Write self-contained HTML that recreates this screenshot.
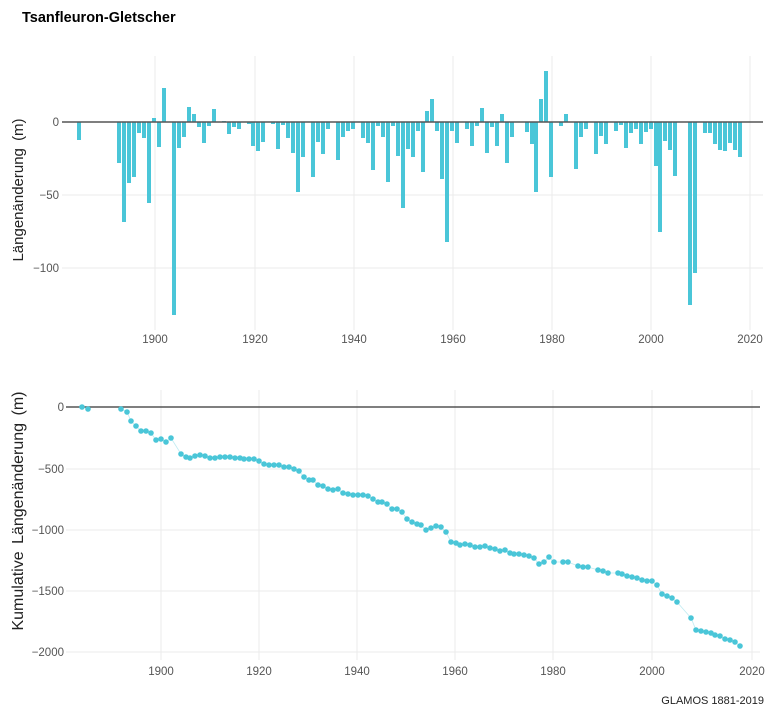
<!DOCTYPE html>
<html><head><meta charset="utf-8"><style>
body{margin:0;background:#fff;width:776px;height:709px;overflow:hidden}
svg{display:block}
text{font-family:"Liberation Sans",sans-serif}
</style></head><body>
<svg id="s" width="776" height="709" xmlns="http://www.w3.org/2000/svg">
<text x="22" y="22" font-size="14.5" font-weight="bold" fill="#000">Tsanfleuron-Gletscher</text>
<g stroke="#ebebeb" stroke-width="1">
<line x1="62" y1="195" x2="763" y2="195"/><line x1="62" y1="268" x2="763" y2="268"/>
<line x1="155" y1="56" x2="155" y2="330"/><line x1="255" y1="56" x2="255" y2="330"/><line x1="354" y1="56" x2="354" y2="330"/><line x1="453" y1="56" x2="453" y2="330"/><line x1="552" y1="56" x2="552" y2="330"/><line x1="651" y1="56" x2="651" y2="330"/><line x1="750" y1="56" x2="750" y2="330"/>
<line x1="66" y1="469" x2="760" y2="469"/><line x1="66" y1="530" x2="760" y2="530"/><line x1="66" y1="591" x2="760" y2="591"/><line x1="66" y1="652" x2="760" y2="652"/>
<line x1="161" y1="390" x2="161" y2="660"/><line x1="259" y1="390" x2="259" y2="660"/><line x1="357" y1="390" x2="357" y2="660"/><line x1="455" y1="390" x2="455" y2="660"/><line x1="553" y1="390" x2="553" y2="660"/><line x1="652" y1="390" x2="652" y2="660"/><line x1="752" y1="390" x2="752" y2="660"/>
</g>
<g id="bars" fill="#4ac6d8"></g>
<line x1="62" y1="122" x2="763" y2="122" stroke="#555" stroke-width="1.5"/>
<line x1="66" y1="407" x2="760" y2="407" stroke="#555" stroke-width="1.5"/>
<g id="pts" fill="#4ac6d8"></g>
<g font-size="11.5" fill="#555" text-anchor="end">
<text x="59" y="126">0</text><text x="59" y="199">−50</text><text x="59" y="272">−100</text>
<text x="64" y="411">0</text><text x="64" y="473">−500</text><text x="64" y="534">−1000</text><text x="64" y="595">−1500</text><text x="64" y="656">−2000</text>
</g>
<g font-size="11.5" fill="#555" text-anchor="middle">
<text x="155" y="343">1900</text><text x="255" y="343">1920</text><text x="354" y="343">1940</text><text x="453" y="343">1960</text><text x="552" y="343">1980</text><text x="651" y="343">2000</text><text x="750" y="343">2020</text>
<text x="161" y="675">1900</text><text x="259" y="675">1920</text><text x="357" y="675">1940</text><text x="455" y="675">1960</text><text x="553" y="675">1980</text><text x="652" y="675">2000</text><text x="752" y="675">2020</text>
</g>
<text transform="translate(23,190) rotate(-90)" font-size="15" fill="#222" text-anchor="middle" word-spacing="3">Längenänderung (m)</text>
<text transform="translate(23,511) rotate(-90)" font-size="16" fill="#222" text-anchor="middle" word-spacing="3">Kumulative Längenänderung (m)</text>
<text x="764" y="704" font-size="11" fill="#222" text-anchor="end">GLAMOS 1881-2019</text>
</svg>
<script>
var B=[[79,140],[119,163],[124,222],[129,183],[134,177],[139,133],[144,138],[149,203],[154,118],[159,147],[164,88],[174,315],[179,148],[184,137],[189,107],[194,114],[199,127],[204,143],[209,126],[214,109],[224,121],[229,134],[234,127],[239,129],[249,124],[253,146],[258,151],[263,142],[273,124],[278,149],[283,125],[288,138],[293,153],[298,192],[303,157],[313,177],[318,142],[323,154],[328,129],[338,160],[343,137],[348,131],[353,129],[363,138],[368,143],[373,170],[378,126],[383,137],[388,182],[393,126],[398,156],[403,208],[408,149],[413,157],[418,131],[423,172],[427,111],[432,99],[437,131],[442,179],[447,242],[452,131],[457,143],[467,129],[472,146],[477,126],[482,108],[487,153],[492,127],[497,146],[502,114],[507,163],[512,137],[527,132],[532,144],[536,192],[541,99],[546,71],[551,177],[561,126],[566,114],[576,169],[581,137],[586,129],[596,154],[601,136],[606,144],[616,131],[621,125],[626,148],[631,133],[636,129],[641,144],[646,132],[651,129],[656,166],[660,232],[665,141],[670,150],[675,176],[690,305],[695,273],[705,133],[710,133],[715,144],[720,150],[725,151],[730,143],[735,150],[740,157]];
var g=document.getElementById('bars'),h='';
B.forEach(function(b){var y1=Math.min(122,b[1]),y2=Math.max(122,b[1]);h+='<rect x="'+(b[0]-2)+'" y="'+y1+'" width="4" height="'+(y2-y1)+'"/>';});
g.innerHTML=h;
var P=[[82,407],[88,409],[121,409],[127,412],[131,421],[136,426],[141,431],[146,431],[151,433],[156,440],[161,439],[166,442],[171,438],[181,454],[186,457],[190,458],[195,456],[200,455],[205,456],[210,458],[215,458],[220,457],[225,457],[230,457],[235,458],[240,458],[244,459],[249,459],[254,459],[259,461],[264,464],[269,465],[274,465],[279,465],[284,467],[289,467],[294,469],[299,471],[304,477],[309,480],[313,480],[318,485],[323,486],[328,489],[333,490],[338,489],[343,493],[348,494],[353,495],[358,495],[363,495],[368,496],[373,499],[378,502],[382,502],[387,504],[392,509],[397,509],[402,512],[407,519],[412,522],[417,524],[421,525],[426,530],[431,528],[436,526],[441,527],[446,532],[451,542],[456,543],[460,545],[465,544],[470,545],[475,547],[480,547],[485,546],[490,548],[495,549],[500,551],[505,550],[510,553],[514,554],[519,554],[524,555],[529,556],[534,558],[539,564],[544,562],[549,557],[554,562],[563,562],[568,562],[578,566],[583,567],[588,567],[598,570],[603,571],[608,573],[618,573],[622,574],[627,576],[632,577],[637,578],[642,580],[647,581],[652,581],[657,585],[662,594],[667,596],[672,598],[677,602],[691,618],[696,630],[701,631],[706,632],[711,633],[715,635],[720,636],[725,639],[730,640],[735,642],[740,646]];
var q=document.getElementById('pts'),s='<polyline fill="none" stroke="#4ac6d8" stroke-opacity="0.35" stroke-width="0.8" points="'+P.slice(2).map(function(p){return p.join(',')}).join(' ')+'"/>';
P.forEach(function(p){s+='<circle cx="'+p[0]+'" cy="'+p[1]+'" r="2.8"/>';});
q.innerHTML=s;
</script>
</body></html>
